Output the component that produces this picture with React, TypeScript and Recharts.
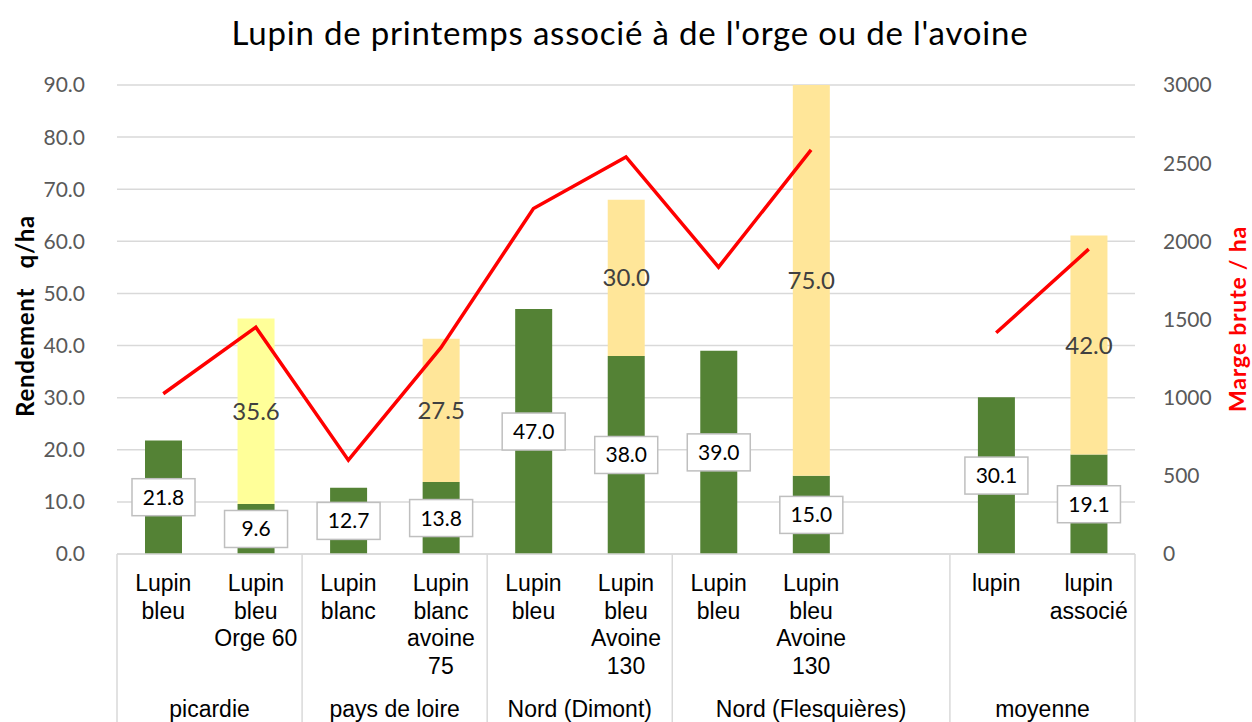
import React from "react";
import {
  ComposedChart,
  Bar,
  Line,
  XAxis,
  YAxis,
  CartesianGrid,
  Cell,
  LabelList,
} from "recharts";

// one entry per x slot, slot 8 is the empty gap in Flesquières
const categories = [
  "Lupin\nbleu",
  "Lupin\nbleu\nOrge 60",
  "Lupin\nblanc",
  "Lupin\nblanc\navoine\n75",
  "Lupin\nbleu",
  "Lupin\nbleu\nAvoine\n130",
  "Lupin\nbleu",
  "Lupin\nbleu\nAvoine\n130",
  "",
  "lupin",
  "lupin\nassocié",
];
const groups = [
  "picardie",
  "picardie",
  "pays de loire",
  "pays de loire",
  "Nord (Dimont)",
  "Nord (Dimont)",
  "Nord (Flesquières)",
  "Nord (Flesquières)",
  "Nord (Flesquières)",
  "moyenne",
  "moyenne",
];
const lupinYield = [21.8, 9.6, 12.7, 13.8, 47.0, 38.0, 39.0, 15.0, null, 30.1, 19.1];
const cerealYield = [0, 35.6, 0, 27.5, 0, 30.0, 0, 75.0, null, 0, 42.0];
const cereal = [null, "orge", null, "avoine", null, "avoine", null, "avoine", null, null, "avoine"];
const margeBrute = [1025, 1450, 600, 1320, 2210, 2540, 1835, 2585, null, 1415, 1950];

const leftTicks = [0, 10, 20, 30, 40, 50, 60, 70, 80, 90];
const rightTicks = [0, 500, 1000, 1500, 2000, 2500, 3000];

const data = categories.map((c, i) => ({
  key: String(i),
  lupin: lupinYield[i],
  cereal: cerealYield[i],
  marge: margeBrute[i],
}));

const W = 1252;
const H = 722;
const AXIS_W = 117;
const SLOT = (W - 2 * AXIS_W) / categories.length;

const GREEN = "#548235";
const cerealColor: Record<string, string> = { orge: "#FFFF99", avoine: "#FFE699" };
const GRID = "#D9D9D9";
const NUM_FONT = "Lato, 'Open Sans', sans-serif";
const CAT_FONT = "'Liberation Sans', Arial, sans-serif";

const XTick = (props: any) => {
  const { x, y, payload } = props;
  const i = Number(payload.value);
  const lines = categories[i] ? categories[i].split("\n") : [];
  const first = i === 0 || groups[i - 1] !== groups[i];
  const size = groups.filter((g) => g === groups[i]).length;
  return (
    <g>
      {lines.map((l, k) => (
        <text
          key={k}
          x={x}
          y={y + 37 + k * 27.5}
          textAnchor="middle"
          fontSize={23}
          fontFamily={CAT_FONT}
          fill="#000"
        >
          {l}
        </text>
      ))}
      {first && (
        <line x1={x - SLOT / 2} x2={x - SLOT / 2} y1={y} y2={H} stroke={GRID} strokeWidth={1.5} />
      )}
      {i === categories.length - 1 && (
        <line x1={x + SLOT / 2} x2={x + SLOT / 2} y1={y} y2={H} stroke={GRID} strokeWidth={1.5} />
      )}
      {first && (
        <text
          x={x + ((size - 1) * SLOT) / 2}
          y={y + 163}
          textAnchor="middle"
          fontSize={23}
          fontFamily={CAT_FONT}
          fill="#000"
        >
          {groups[i]}
        </text>
      )}
    </g>
  );
};

const BoxLabel = (props: any) => {
  const { x, y, width, height, value } = props;
  if (value == null) return null;
  const cx = x + width / 2;
  const cy = y + height / 2;
  return (
    <g>
      <rect x={cx - 31.5} y={cy - 18.5} width={63} height={37} fill="#fff" stroke="#BFBFBF" strokeWidth={1.5} />
      <text x={cx} y={cy + 7.5} textAnchor="middle" fontSize={21} fontFamily={NUM_FONT} fill="#000">
        {Number(value).toFixed(1)}
      </text>
    </g>
  );
};

const PlainLabel = (props: any) => {
  const { x, y, width, height, value } = props;
  if (!value) return null;
  return (
    <text
      x={x + width / 2}
      y={y + height / 2 + 8.5}
      textAnchor="middle"
      fontSize={24}
      fontFamily={NUM_FONT}
      fill="#404040"
    >
      {Number(value).toFixed(1)}
    </text>
  );
};

const App = () => {
  return (
    <div style={{ position: "absolute", left: 0, top: 0, width: W, height: H }}>
      <div
        style={{
          position: "absolute",
          left: 4,
          top: 10,
          width: W,
          textAlign: "center",
          fontFamily: NUM_FONT,
          fontSize: 33,
          letterSpacing: 0.8,
          lineHeight: "44px",
          color: "#000",
        }}
      >
        Lupin de printemps associé à de l'orge ou de l'avoine
      </div>
      <ComposedChart
        width={W}
        height={H}
        data={data}
        margin={{ top: 85, right: 0, bottom: 0, left: 0 }}
      >
        <CartesianGrid yAxisId="left" vertical={false} stroke={GRID} strokeWidth={1.5} />
        <XAxis
          dataKey="key"
          height={168}
          tick={<XTick />}
          tickLine={false}
          tickSize={0}
          tickMargin={0}
          axisLine={{ stroke: GRID, strokeWidth: 1.5 }}
          interval={0}
        />
        <YAxis
          yAxisId="left"
          orientation="left"
          width={AXIS_W}
          domain={[0, 90]}
          ticks={leftTicks}
          tickFormatter={(v: number) => v.toFixed(1)}
          axisLine={false}
          tickLine={false}
          tickSize={0}
          tickMargin={32}
          tick={{ fontSize: 21, fontFamily: NUM_FONT, fill: "#595959" }}
          label={(p: any) => (
            <text
              x={24}
              y={316}
              transform="rotate(-90 24 316)"
              textAnchor="middle"
              dominantBaseline="central"
              fontSize={24}
              letterSpacing={0.7}
              fontWeight="bold"
              fontFamily={NUM_FONT}
              fill="#000"
              style={{ whiteSpace: "pre" }}
            >
              {"Rendement   q/ha"}
            </text>
          )}
        />
        <YAxis
          yAxisId="right"
          orientation="right"
          width={AXIS_W}
          domain={[0, 3000]}
          ticks={rightTicks}
          axisLine={false}
          tickLine={false}
          tickSize={0}
          tickMargin={28}
          tick={{ fontSize: 21, fontFamily: NUM_FONT, fill: "#595959", textAnchor: "start" }}
          label={(p: any) => (
            <text
              x={1237}
              y={319}
              transform="rotate(-90 1237 319)"
              textAnchor="middle"
              dominantBaseline="central"
              fontSize={23}
              letterSpacing={0.8}
              fontWeight="bold"
              fontFamily={NUM_FONT}
              fill="#FF0000"
            >
              Marge brute / ha
            </text>
          )}
        />
        <Bar yAxisId="left" dataKey="lupin" stackId="a" fill={GREEN} barSize={37} isAnimationActive={false}>
          <LabelList dataKey="lupin" content={<BoxLabel />} />
        </Bar>
        <Bar yAxisId="left" dataKey="cereal" stackId="a" barSize={37} isAnimationActive={false}>
          {data.map((d, i) => (
            <Cell key={i} fill={cereal[i] ? cerealColor[cereal[i] as string] : "#FFE699"} />
          ))}
          <LabelList dataKey="cereal" content={<PlainLabel />} />
        </Bar>
        <Line
          yAxisId="right"
          dataKey="marge"
          stroke="#FF0000"
          strokeWidth={3.5}
          dot={false}
          activeDot={false}
          isAnimationActive={false}
        />
      </ComposedChart>
    </div>
  );
};

export default App;
